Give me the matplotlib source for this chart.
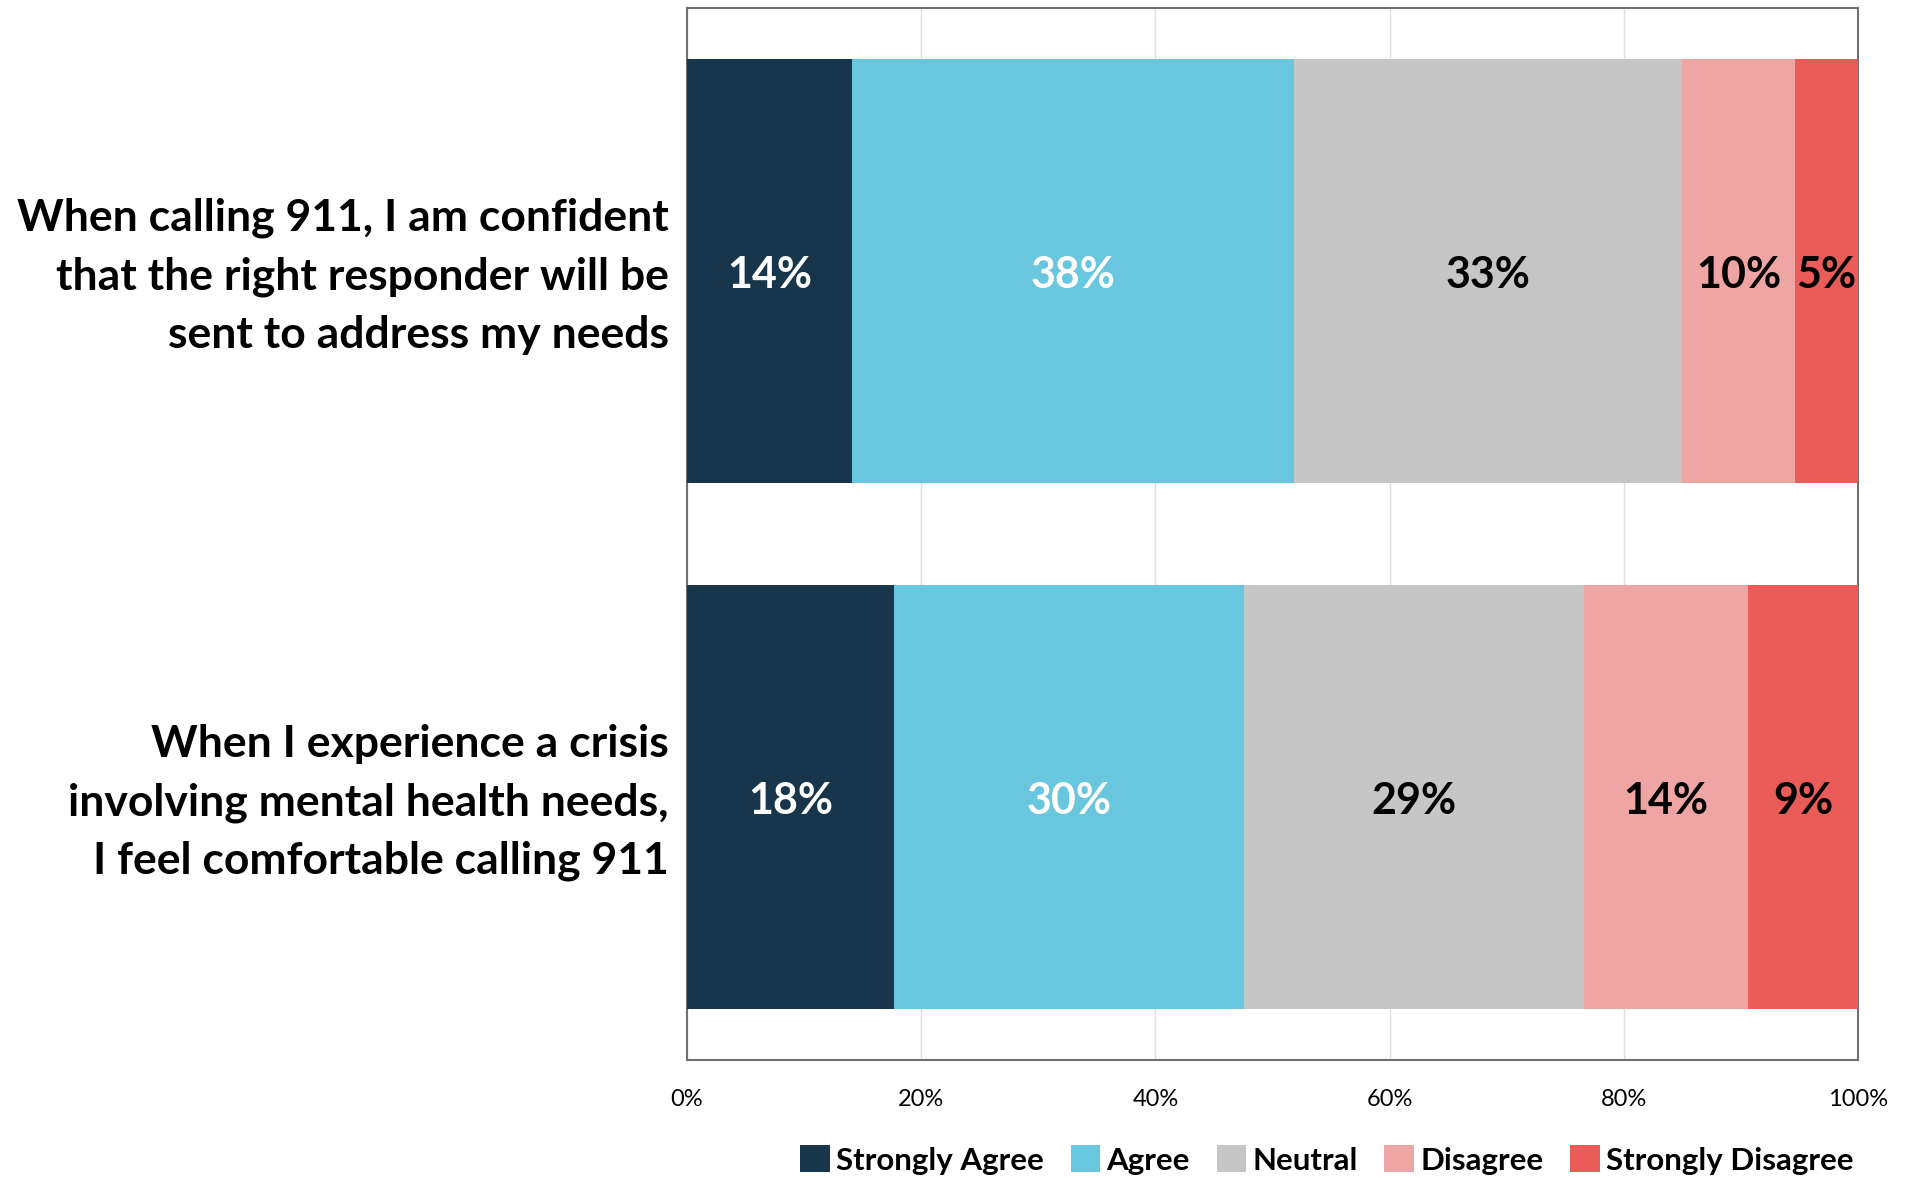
import matplotlib
matplotlib.use("Agg")
import matplotlib.pyplot as plt
import matplotlib.transforms as mtransforms
import numpy as np

plt.rcParams['font.family'] = ['Lato', 'DejaVu Sans']

questions = [
    "When calling 911, I am confident\nthat the right responder will be\nsent to address my needs",
    "When I experience a crisis\ninvolving mental health needs,\nI feel comfortable calling 911",
]
categories = ["Strongly Agree", "Agree", "Neutral", "Disagree", "Strongly Disagree"]
strongly_agree = [14.1, 17.7]
agree = [37.7, 29.9]
neutral = [33.2, 29.0]
disagree = [9.6, 14.0]
strongly_disagree = [5.4, 9.4]
labels_text = [["14%", "38%", "33%", "10%", "5%"],
               ["18%", "30%", "29%", "14%", "9%"]]
colors = ["#17364b", "#69c6df", "#c6c6c6", "#f0a5a5", "#eb5b57"]
text_colors = ["white", "white", "black", "black", "black"]

series = [strongly_agree, agree, neutral, disagree, strongly_disagree]

fig = plt.figure(figsize=(19.08, 11.78), dpi=100)
ax = fig.add_axes([687/1908, 1 - 1060/1178, (1858-687)/1908, (1060-8)/1178])

y = np.arange(len(questions))
left = np.zeros(len(questions))
for i, (vals, c) in enumerate(zip(series, colors)):
    vals = np.array(vals) / 100.0
    ax.barh(y, vals, left=left, height=0.805, color=c, label=categories[i], zorder=3)
    for j in range(len(questions)):
        cx = left[j] + vals[j] / 2
        ax.text(cx, y[j], labels_text[j][i], ha='center', va='center_baseline',
                fontsize=31, fontweight='bold', color=text_colors[i], zorder=4)
    left = left + vals

ax.set_xlim(0, 1)
ax.set_ylim(1.5, -0.5)
ax.set_xticks(np.arange(0, 1.01, 0.2))
ax.set_xticklabels([f"{int(round(v*100))}%" for v in np.arange(0, 1.01, 0.2)], fontsize=17)
ax.set_yticks(y)
ax.set_yticklabels(questions, fontsize=32, fontweight='bold', linespacing=1.55)
ax.tick_params(axis='both', length=0)
ax.tick_params(axis='x', pad=21)
ax.tick_params(axis='y', pad=13)
offset = mtransforms.ScaledTranslation(0, 0.072, fig.dpi_scale_trans)
for lbl in ax.get_yticklabels():
    lbl.set_transform(lbl.get_transform() + offset)
ax.grid(axis='x', color='#e0e0e0', linewidth=1, zorder=0)
for s in ax.spines.values():
    s.set_color('#707070')
    s.set_linewidth(1.5)

leg = fig.legend(loc='center right', bbox_to_anchor=(1866/1908, 1 - 1160/1178),
                 ncol=5, frameon=False, prop={'weight': 'bold', 'size': 22.5},
                 handlelength=0.95, handleheight=0.95, handletextpad=0.2, columnspacing=0.85,
                 borderaxespad=0)

fig.savefig("out.png", dpi=100, facecolor='white')
